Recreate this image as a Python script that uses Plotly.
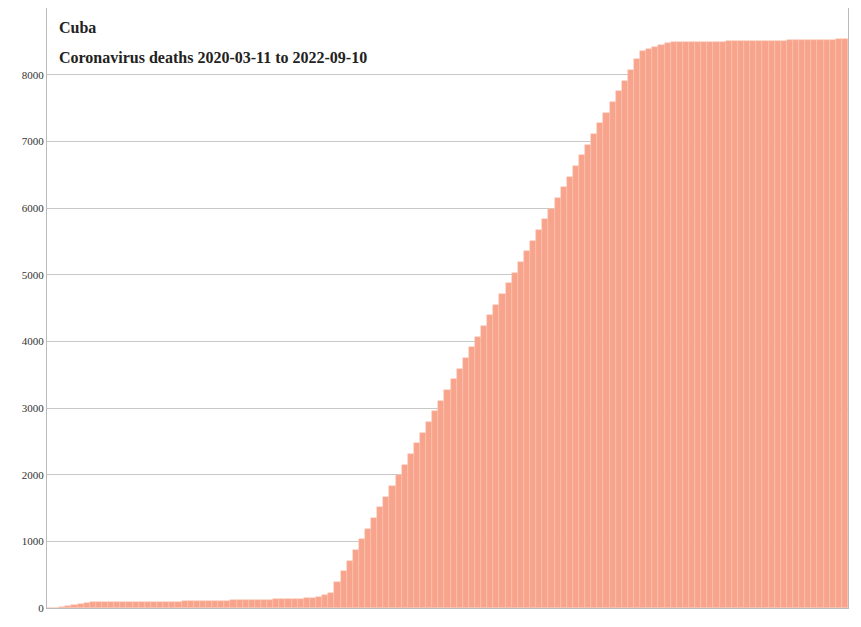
import pandas as pd
import plotly.graph_objects as go

# weekly cumulative deaths
early = [0, 2, 10, 25, 45, 65, 80, 85]
plateau1 = [87, 88, 89, 90, 90, 91, 92, 92, 93, 94, 95, 95, 96, 97, 98, 98, 99, 100]
plateau2 = [101, 104, 107, 110, 113, 116, 119, 121, 123, 125, 127, 129, 132, 135, 138, 141, 145, 150]
takeoff = [170, 200, 230]
rise = [390, 550, 710, 870, 1030, 1190, 1350, 1510, 1670, 1830, 1990, 2150, 2310,
        2470, 2630, 2790, 2950, 3110, 3270, 3430, 3590, 3750, 3910, 4070, 4230,
        4390, 4550, 4710, 4870, 5030, 5190, 5350, 5510, 5670, 5830, 5990, 6150,
        6310, 6470, 6630, 6790, 6950, 7110, 7270, 7430, 7590, 7750, 7910, 8070,
        8230, 8350]
bend = [8390, 8420, 8450, 8475, 8490]
tail = [8490, 8491, 8492, 8493, 8494, 8495, 8496, 8497, 8498, 8499, 8500, 8501,
        8502, 8504, 8506, 8508, 8510, 8512, 8514, 8516, 8518, 8520, 8522, 8524,
        8526, 8527, 8528, 8529]

deaths = early + plateau1 + plateau2 + takeoff + rise + bend + tail
weeks = pd.date_range("2020-03-11", periods=len(deaths), freq="7D")

fig = go.Figure(go.Bar(x=weeks, y=deaths, marker_color="#f8a48c",
                       marker_line_color="#fbc4b2", marker_line_width=0.5))
fig.update_layout(
    width=861, height=627, margin=dict(l=39, r=21, t=0, b=27),
    plot_bgcolor="white", paper_bgcolor="white", bargap=0, showlegend=False,
    font=dict(family="Liberation Serif", size=11, color="#333"),
)
fig.update_xaxes(showticklabels=False, showgrid=False, showline=True,
                 linecolor="#bbb", mirror=True, ticks="")
fig.update_yaxes(range=[0, 9000], dtick=1000, showgrid=True, gridcolor="#c8c8c8",
                 showline=True, linecolor="#bbb", mirror=True, ticks="",
                 zeroline=False)
fig.add_annotation(x=0.012, y=0.985, xref="paper", yref="paper", showarrow=False,
                   xanchor="left", yanchor="top", text="<b>Cuba</b>",
                   font=dict(family="Liberation Serif", size=16, color="#222"))
fig.add_annotation(x=0.012, y=0.935, xref="paper", yref="paper", showarrow=False,
                   xanchor="left", yanchor="top",
                   text="<b>Coronavirus deaths 2020-03-11 to 2022-09-10</b>",
                   font=dict(family="Liberation Serif", size=16, color="#222"))
fig.write_html("out.html")
